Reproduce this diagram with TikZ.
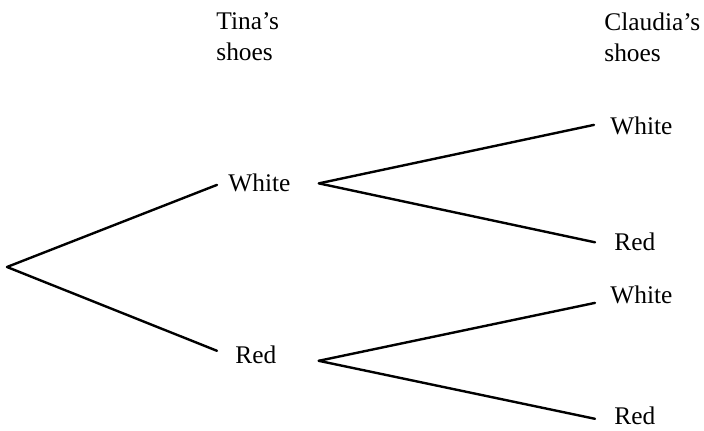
\documentclass[tikz,border=0pt]{standalone}
\usepackage{fontspec}
\setmainfont{Liberation Serif}
\begin{document}
\begin{tikzpicture}[x=0.5pt,y=-0.5pt,
  lbl/.style={anchor=base west,inner sep=0pt,font=\fontsize{12.7}{15.5}\selectfont},
  head/.style={anchor=north west,inner sep=0pt,align=left,font=\fontsize{12.7}{15.5}\selectfont},
  branch/.style={line width=1.2pt,line cap=round}]
\useasboundingbox (0,0) rectangle (704,431);

% column headings
\node[head] (tina) at (216,12) {Tina’s\\shoes};
\node[head] (claudia) at (604,12) {Claudia’s\\shoes};

% first stage
\coordinate (root) at (7,267);
\node[lbl] (tw) at (228,192) {White};
\node[lbl] (tr) at (235,364) {Red};

% second stage
\node[lbl] (ww) at (610,135) {White};
\node[lbl] (wr) at (614,251) {Red};
\node[lbl] (rw) at (610,304) {White};
\node[lbl] (rr) at (614,424) {Red};

% branches
\draw[branch] (root) -- ([xshift=-5.5pt,yshift=-0.75pt]tw.west);
\draw[branch] (root) -- ([xshift=-9pt,yshift=2.25pt]tr.west);

\draw[branch] ([xshift=14pt]tw.east) -- ([xshift=-8pt,yshift=0.75pt]ww.west);
\draw[branch] ([xshift=14pt]tw.east) -- ([xshift=-9.5pt]wr.west);

\draw[branch] ([xshift=21pt,yshift=-2.75pt]tr.east) -- ([xshift=-7.5pt,yshift=-3.75pt]rw.west);
\draw[branch] ([xshift=21pt,yshift=-2.75pt]tr.east) -- ([xshift=-9.5pt,yshift=-1.75pt]rr.west);
\end{tikzpicture}
\end{document}
